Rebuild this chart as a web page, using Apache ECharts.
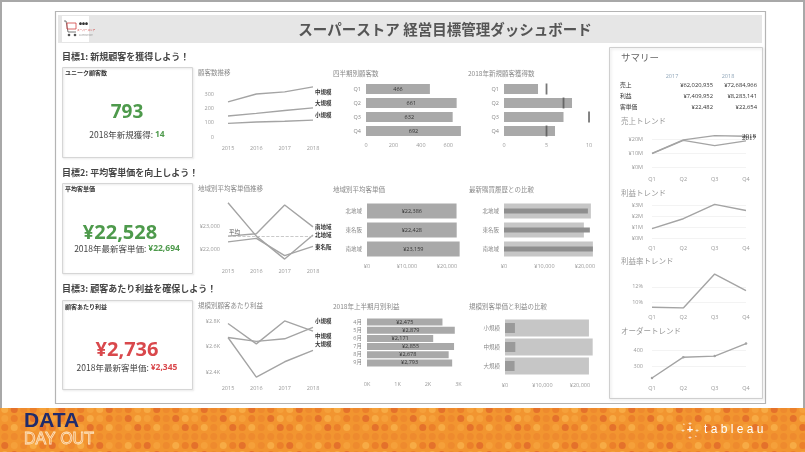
<!DOCTYPE html>
<html><head><meta charset="utf-8">
<script src="https://cdn.jsdelivr.net/npm/echarts@6/dist/echarts.min.js"></script>
<style>html,body{margin:0;padding:0;background:#fff}#c{width:805px;height:452px}</style>
</head><body><div id="c"></div><script>
// ---------- data ----------
const years = ['2015', '2016', '2017', '2018'];
const quarters = ['Q1', 'Q2', 'Q3', 'Q4'];
const custMid = [245, 300, 315, 350];
const custLarge = [147, 165, 185, 203];
const custSmall = [95, 105, 110, 118];
const quarterCust = [466, 661, 632, 692];
const newCust2018 = [4, 8, 7, 6];
const newCustTarget = [5, 7, 10, 5];
const regions = ['北地域', '東名阪', '南地域'];
const trendSouth = [22600, 22700, 23950, 23000];
const trendNorth = [24050, 22600, 21600, 22650];
const trendTokai = [22350, 22500, 21750, 22150];
const avgLineValue = 22600;
const regionAvg = [22386, 22428, 23159];
const regionPrev = [21480, 19750, 21980];
const regionLatest = [20740, 21230, 21980];
const sizes = ['小規模', '中規模', '大規模'];
const profitSmall = [2780, 2620, 2800, 2720];
const profitMid = [2670, 2640, 2660, 2750];
const profitLarge = [2670, 2360, 2480, 2570];
const months = ['4月', '5月', '6月', '7月', '8月', '9月'];
const monthProfit = [2475, 2879, 2171, 2855, 2678, 2793];
const sizeSpend = [22400, 23400, 22400];
const sizeProfit = [2650, 2750, 2550];
const sales2017 = [9.5, 19.0, 15.3, 18.7];
const sales2018 = [9.8, 19.4, 22.4, 22.0];
const profitQ = [0.85, 1.75, 3.05, 2.5];
const marginQ = [9.3, 9.2, 13.7, 11.5];
const ordersQ = [225, 355, 362, 440];
const summaryYears = ['2017', '2018'];
const summaryLabels = ['売上', '利益', '客単価'];
const summary2017 = ['¥62,020,935', '¥7,409,952', '¥22,482'];
const summary2018 = ['¥72,684,966', '¥8,283,141', '¥22,654'];

// ---------- styles ----------
const FF = "'Noto Sans CJK JP','Open Sans',sans-serif";
const NF = "'Open Sans','Noto Sans CJK JP',sans-serif";
const LINE = '#a4a4a4';
const BAR = '#a9a9a9';
const GREEN = '#4e9a4c';
const RED = '#d9484c';
const axisLbl = {fontSize: 5.5, color: '#9a9a9a', fontFamily: NF};
const yen = v => '¥' + Math.round(v).toLocaleString('en-US');

const option = {animation: false, grid: [], xAxis: [], yAxis: [], series: [], graphic: []};

function addLineChart(rect, cats, yMin, yMax, yVals, yFmt, list, o = {}) {
  const gi = option.grid.length, xi = option.xAxis.length, yi = option.yAxis.length;
  option.grid.push(rect);
  option.xAxis.push({type: 'category', gridIndex: gi, data: cats, boundaryGap: false,
    axisLine: {show: false}, axisTick: {show: false}, splitLine: {show: false},
    axisLabel: Object.assign({interval: 0, margin: o.xMargin || 8}, axisLbl)});
  option.yAxis.push({type: 'value', gridIndex: gi, min: yMin, max: yMax,
    axisLine: {show: false}, axisTick: {show: false, customValues: yVals},
    splitLine: {show: !!o.grid, lineStyle: {color: '#f0f0f0', width: 0.8}},
    axisLabel: Object.assign({customValues: yVals, formatter: yFmt, margin: o.yMargin || 8}, axisLbl)});
  list.forEach(s => option.series.push(Object.assign({type: 'line', xAxisIndex: xi, yAxisIndex: yi,
    symbol: 'none', silent: true, lineStyle: {color: LINE, width: 1.4}, itemStyle: {color: LINE}}, s)));
}

// list items may set "overlay: true" to sit on a hidden twin category axis (centred in the same band)
function addBarChart(rect, cats, xMax, xVals, xFmt, list, o = {}) {
  const gi = option.grid.length, xi = option.xAxis.length, yi = option.yAxis.length;
  option.grid.push(rect);
  option.yAxis.push({type: 'category', gridIndex: gi, data: cats, inverse: true,
    axisLine: {show: false}, axisTick: {show: false},
    axisLabel: Object.assign({}, axisLbl, {color: '#888', margin: o.yMargin || 5})});
  const needTwin = list.some(s => s.overlay);
  if (needTwin) option.yAxis.push({type: 'category', gridIndex: gi, data: cats, inverse: true, show: false});
  option.xAxis.push({type: 'value', gridIndex: gi, min: 0, max: xMax,
    axisLine: {show: false}, axisTick: {show: false}, splitLine: {show: false},
    axisLabel: Object.assign({customValues: xVals, formatter: xFmt, margin: o.xMargin || 5}, axisLbl)});
  list.forEach(s => {
    const ov = s.overlay; const c = Object.assign({}, s); delete c.overlay;
    option.series.push(Object.assign({type: 'bar', xAxisIndex: xi, yAxisIndex: ov ? yi + 1 : yi, silent: true}, c));
  });
}

const endLbl = (dy) => ({show: true, formatter: '{a}', fontSize: 5.5, color: '#333', fontWeight: 'bold',
  fontFamily: FF, distance: 2, offset: [0, dy]});
const barLbl = (fmt) => ({show: true, position: 'inside', fontSize: 5.5, color: '#333', fontFamily: NF, formatter: fmt});

// ---------- goal 1 ----------
addLineChart({left: 228, top: 84, width: 85, height: 53}, years, 0, 370, [0, 100, 200, 300], v => v, [
  {name: '中規模', data: custMid, endLabel: endLbl(5)},
  {name: '大規模', data: custLarge, endLabel: endLbl(-5)},
  {name: '小規模', data: custSmall, endLabel: endLbl(-5)}
], {xMargin: 9, yMargin: 14});

addBarChart({left: 366, top: 82, width: 96, height: 56}, quarters, 700, [0, 200, 400, 600], v => v, [
  {data: quarterCust, barWidth: 10, itemStyle: {color: BAR}, label: barLbl(p => p.value)}
], {xMargin: 5});

addBarChart({left: 504, top: 82, width: 88, height: 56}, quarters, 10.35, [0, 5, 10], v => v, [
  {data: newCust2018, barWidth: 10, itemStyle: {color: BAR}},
  {type: 'scatter', data: newCustTarget.map((v, i) => [v, i]), symbol: 'rect', symbolSize: [1.8, 11],
    itemStyle: {color: '#555'}, z: 5}
], {xMargin: 5});

// ---------- goal 2 ----------
addLineChart({left: 228, top: 200, width: 85, height: 63}, years, 21430, 24170, [22000, 23000], yen, [
  {name: '南地域', data: trendSouth, endLabel: endLbl(0),
    markLine: {silent: true, symbol: 'none', data: [{yAxis: avgLineValue}],
      lineStyle: {color: '#bbb', type: 'dashed', width: 0.8},
      label: {show: true, position: 'insideStartTop', formatter: '平均', fontSize: 5.5, color: '#555', fontFamily: FF, distance: 1}}},
  {name: '北地域', data: trendNorth, endLabel: endLbl(0)},
  {name: '東名阪', data: trendTokai, endLabel: endLbl(0)}
], {xMargin: 6, yMargin: 8});

addBarChart({left: 367, top: 201.5, width: 94, height: 57}, regions, 23500, [0, 10000, 20000], yen, [
  {data: regionAvg, barWidth: 15, itemStyle: {color: BAR}, label: barLbl(p => yen(p.value))}
], {xMargin: 5});

addBarChart({left: 504, top: 201.5, width: 91, height: 57}, regions, 22500, [0, 10000, 20000], yen, [
  {data: regionPrev, barWidth: 15, itemStyle: {color: '#c6c6c6'}},
  {data: regionLatest, barWidth: 5, itemStyle: {color: '#8e8e8e'}, overlay: true}
], {xMargin: 5});

// ---------- goal 3 ----------
addLineChart({left: 228, top: 317, width: 85, height: 63}, years, 2337, 2831, [2400, 2600, 2800],
  v => '¥' + (v / 1000).toFixed(1) + 'K', [
  {name: '小規模', data: profitSmall, endLabel: endLbl(-10)},
  {name: '中規模', data: profitMid, endLabel: endLbl(9)},
  {name: '大規模', data: profitLarge, endLabel: endLbl(-6)}
], {xMargin: 6, yMargin: 8});

addBarChart({left: 367, top: 318, width: 93, height: 49}, months, 3050, [0, 1000, 2000, 3000], v => (v / 1000) + 'K', [
  {data: monthProfit, barWidth: 7, itemStyle: {color: BAR}, label: barLbl(p => yen(p.value))}
], {xMargin: 15});

addBarChart({left: 505, top: 318.5, width: 89, height: 57}, sizes, 23750, [0, 10000, 20000], yen, [
  {data: sizeSpend, barWidth: 17, itemStyle: {color: '#c6c6c6'}},
  {data: sizeProfit, barWidth: 10, itemStyle: {color: '#9a9a9a'}, overlay: true}
], {xMargin: 7});

// ---------- summary ----------
const sumEnd = (dy) => ({show: true, formatter: '{a}', fontSize: 7, color: '#333',
  fontFamily: "'Liberation Serif',serif", distance: -4, offset: [0, dy]});
addLineChart({left: 652, top: 132, width: 94, height: 35}, quarters, 0, 25, [0, 10, 20], v => '¥' + v + 'M', [
  {name: '2018', data: sales2018, endLabel: sumEnd(0)},
  {name: '2017', data: sales2017, endLabel: sumEnd(-3)}
], {xMargin: 10, yMargin: 9, grid: true});
addLineChart({left: 652, top: 200, width: 94, height: 38}, quarters, 0, 3.45, [0, 1, 2, 3], v => '¥' + v + 'M', [
  {data: profitQ}
], {xMargin: 8, yMargin: 9, grid: true});
addLineChart({left: 652, top: 268, width: 94, height: 40}, quarters, 9.2, 14.5, [10, 12], v => v + '%', [
  {data: marginQ}
], {xMargin: 7, yMargin: 9, grid: true});
addLineChart({left: 652, top: 337, width: 94, height: 42}, quarters, 219, 481, [300, 400], v => v, [
  {data: ordersQ, symbol: 'circle', symbolSize: 2.5, showSymbol: true}
], {xMargin: 7, yMargin: 9, grid: true});

// ---------- decoration & text ----------
function dotPattern() {
  const c = document.createElement('canvas'); c.width = 190; c.height = 45;
  const ctx = c.getContext('2d');
  ctx.fillStyle = '#f29530'; ctx.fillRect(0, 0, 190, 45);
  const shades = ['#f7ab45', '#eb7f2a', '#e4712b', '#f5a03a', '#ee8a2e'];
  for (let r = 0; r < 5; r++) for (let k = 0; k < 20; k++) {
    ctx.fillStyle = shades[(k * 7 + r * 3 + (k * r) % 5) % 5];
    ctx.beginPath(); ctx.arc(k * 9.5 + 4.75, r * 9 + 4.5, 3.5, 0, Math.PI * 2); ctx.fill();
  }
  return c;
}
const G = option.graphic;
const T = (text, x, y, size, color, extra = {}) => G.push({type: 'text', silent: true, z: 10, style: Object.assign({
  text, x, y, fill: color, fontSize: size, fontFamily: FF, align: 'left', verticalAlign: 'middle'}, extra)});
const R = (x, y, w, h, style, z = 0) => G.push({type: 'rect', silent: true, z, shape: {x, y, width: w, height: h}, style});

R(1, 1, 803, 450, {fill: 'none', stroke: '#a8a8a8', lineWidth: 2});
R(55.5, 11.5, 710, 392, {fill: 'none', stroke: '#b4b4b4', lineWidth: 1.2});
R(58, 15, 704, 28, {fill: '#e6e6e6'});
// logo
R(62, 16, 27, 26, {fill: '#fff'});
G.push({type: 'polyline', silent: true, z: 11, shape: {points: [[64, 21], [66, 21], [68, 32], [76, 32]]}, style: {stroke: '#555', lineWidth: 0.8, fill: 'none'}});
R(67, 23, 9, 6, {fill: 'none', stroke: '#d04040', lineWidth: 0.8}, 11);
G.push({type: 'circle', silent: true, z: 11, shape: {cx: 69, cy: 35, r: 1.3}, style: {fill: '#555'}});
G.push({type: 'circle', silent: true, z: 11, shape: {cx: 75, cy: 35, r: 1.3}, style: {fill: '#555'}});
T('●●●', 79, 24, 3, '#333');
T('スーパーストア', 77, 30, 2.6, '#c33');
T('SUPERSTORE', 79, 35, 2.2, '#999');
T('スーパーストア 経営目標管理ダッシュボード', 445, 29.5, 14.5, '#555', {align: 'center', fontWeight: 'bold'});

// summary panel
R(609.5, 47.5, 153, 351, {fill: 'none', stroke: '#cfcfcf', lineWidth: 1, shadowBlur: 3, shadowColor: 'rgba(0,0,0,0.15)', shadowOffsetX: 1, shadowOffsetY: 1});
T('サマリー', 621, 57, 9.5, '#666');
T(summaryYears[0], 672, 76, 5.5, '#8fa5b8', {align: 'center', fontFamily: NF});
T(summaryYears[1], 728, 76, 5.5, '#8fa5b8', {align: 'center', fontFamily: NF});
summaryLabels.forEach((l, i) => {
  const y = 85 + i * 11;
  T(l, 620, y, 5.8, '#333');
  T(summary2017[i], 713, y, 5.8, '#333', {align: 'right', fontFamily: NF});
  T(summary2018[i], 757, y, 5.8, '#333', {align: 'right', fontFamily: NF});
});
T('売上トレンド', 621, 121, 7.5, '#999');
T('利益トレンド', 621, 193, 7.5, '#999');
T('利益率トレンド', 621, 261, 7.5, '#999');
T('オーダートレンド', 621, 331, 7.5, '#999');

// goal headers & KPI boxes
T('目標1: 新規顧客を獲得しよう！', 62, 57, 9, '#444', {fontWeight: 'bold'});
T('目標2: 平均客単価を向上しよう！', 62, 173, 9, '#444', {fontWeight: 'bold'});
T('目標3: 顧客あたり利益を確保しよう！', 62, 289, 9, '#444', {fontWeight: 'bold'});
const box = {fill: 'none', stroke: '#d6d6d6', lineWidth: 1, shadowBlur: 2, shadowColor: 'rgba(0,0,0,0.12)', shadowOffsetX: 1, shadowOffsetY: 1};
R(62.5, 67.5, 130, 90, box);
R(62.5, 183.5, 130, 90, box);
R(62.5, 300.5, 130, 89, box);
T('ユニーク顧客数', 65, 73, 6, '#333', {fontWeight: 'bold'});
T('平均客単価', 65, 189, 6, '#333', {fontWeight: 'bold'});
T('顧客あたり利益', 65, 307, 6, '#333', {fontWeight: 'bold'});
T('793', 127, 113, 19, GREEN, {align: 'center', fontFamily: NF, fontWeight: 'bold'});
T('¥22,528', 120, 233, 20, GREEN, {align: 'center', fontFamily: NF, fontWeight: 'bold'});
T('¥2,736', 127, 350, 20, RED, {align: 'center', fontFamily: NF, fontWeight: 'bold'});
const kpiSub = (a, b, y, col) => G.push({type: 'text', silent: true, z: 10, style: {
  text: '{a|' + a + '}{b|' + b + '}', x: 127, y, align: 'center', verticalAlign: 'middle',
  rich: {a: {fontSize: 8.5, fill: '#444', fontFamily: FF}, b: {fontSize: 8.5, fill: col, fontFamily: NF, fontWeight: 'bold'}}}});
kpiSub('2018年新規獲得: ', '14', 135, GREEN);
kpiSub('2018年最新客単価: ', '¥22,694', 249, GREEN);
kpiSub('2018年最新客単価: ', '¥2,345', 368, RED);

// chart titles
[['顧客数推移', 198, 73], ['四半期別顧客数', 333, 74], ['2018年新規顧客獲得数', 468, 74],
 ['地域別平均客単価推移', 198, 189], ['地域別平均客単価', 333, 190], ['最新購買履歴との比較', 469, 190],
 ['規模別顧客あたり利益', 198, 306], ['2018年上半期月別利益', 333, 307], ['規模別客単価と利益の比較', 469, 307]]
  .forEach(t => T(t[0], t[1], t[2], 6.5, '#8a8a8a'));

// footer
R(0, 408, 805, 44, {fill: {image: dotPattern(), repeat: 'repeat'}});
T('DATA', 24, 421, 21, '#1f2b6c', {fontFamily: "'Liberation Sans',sans-serif", fontWeight: 'bold'});
T('DAY OUT', 24, 440, 16, 'rgba(0,0,0,0)', {fontFamily: "'Liberation Sans',sans-serif", stroke: '#fde3c0', lineWidth: 0.8});
const LS = "'Liberation Sans',sans-serif";
T('+', 690, 430, 11, '#fff', {align: 'center', fontFamily: LS, fontWeight: 'bold'});
T('+', 690, 423, 6, '#fff', {align: 'center', fontFamily: LS});
T('+', 690, 437, 6, '#fff', {align: 'center', fontFamily: LS});
T('+', 683, 430, 6, '#fff', {align: 'center', fontFamily: LS});
T('+', 697, 430, 6, '#fff', {align: 'center', fontFamily: LS});
T('+', 684, 424, 4, '#fff', {align: 'center', fontFamily: LS});
T('+', 696, 436, 4, '#fff', {align: 'center', fontFamily: LS});
T('t a b l e a u', 704, 430, 12, '#fff', {fontFamily: LS});

const chart = echarts.init(document.getElementById('c'), null, {renderer: 'canvas'});
chart.setOption(option);
</script></body></html>
